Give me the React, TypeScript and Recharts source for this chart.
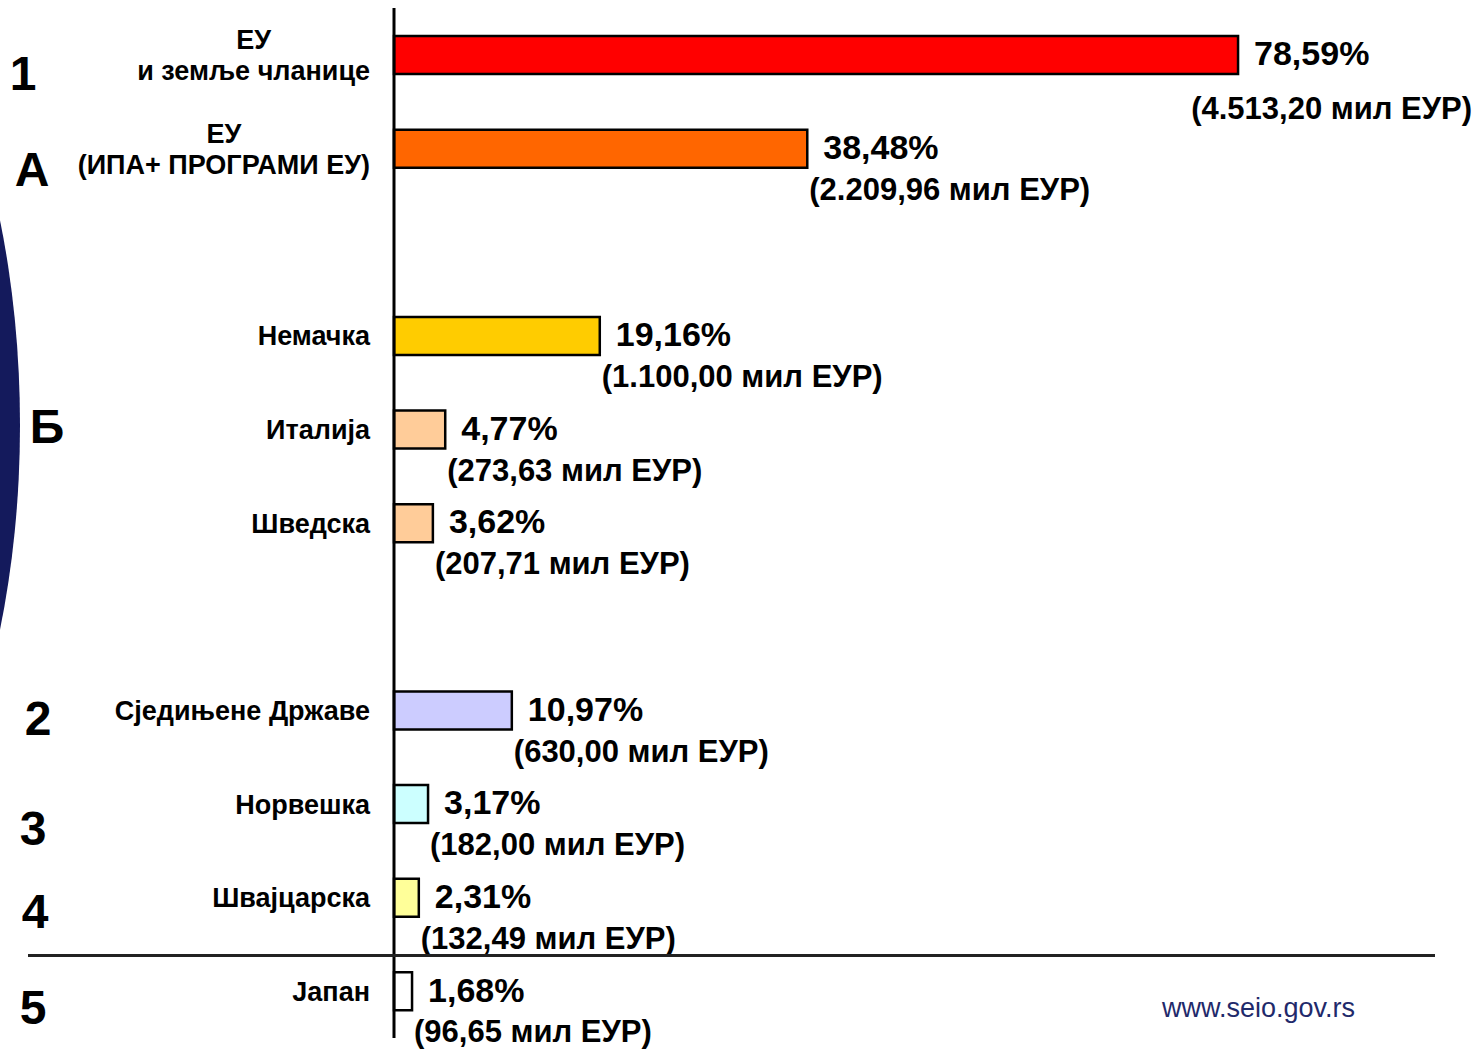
import React from "react";
import { BarChart, Bar, XAxis, YAxis, Cell, LabelList } from "recharts";

// ---- data ----
const ids = ["eu", "eu_ipa", "gap1", "de", "it", "se", "gap2", "us", "no", "ch", "jp"];
const labels = [
  "ЕУ\nи земље чланице",
  "ЕУ\n(ИПА+ ПРОГРАМИ ЕУ)",
  "",
  "Немачка",
  "Италија",
  "Шведска",
  "",
  "Сједињене Државе",
  "Норвешка",
  "Швајцарска",
  "Јапан",
];
const shares: (number | null)[] = [78.59, 38.48, null, 19.16, 4.77, 3.62, null, 10.97, 3.17, 2.31, 1.68];
const amounts: (string | null)[] = ["4.513,20", "2.209,96", null, "1.100,00", "273,63", "207,71", null, "630,00", "182,00", "132,49", "96,65"];
const colors: (string | null)[] = ["#FF0000", "#FF6600", null, "#FFCC00", "#FFCC99", "#FFCC99", null, "#CCCCFF", "#CCFFFF", "#FFFF99", "#FFFFFF"];
const groups: (string | null)[] = ["1", "А", null, null, "Б", null, null, "2", "3", "4", "5"];

const data = ids.map((id, i) => ({ id, share: shares[i] }));

// ---- layout / style ----
const W = 1480;
const H = 1049;
const FONT = "'Liberation Sans', Arial, Helvetica, sans-serif";
const GROUP_POS: Record<string, { cx: number; dy: number }> = {
  "1": { cx: 23, dy: 17.5 },
  "А": { cx: 32, dy: 20 },
  "Б": { cx: 47, dy: -3.5 },
  "2": { cx: 38, dy: 7.5 },
  "3": { cx: 33, dy: 23.5 },
  "4": { cx: 35, dy: 13.5 },
  "5": { cx: 33, dy: 16 },
};
const TICK_FS = 27;
const PCT_FS = 34;
const AMT_FS = 31;
const GRP_FS = 48;

let ctx: CanvasRenderingContext2D | null = null;
function textW(s: string, font: string) {
  if (!ctx && typeof document !== "undefined") {
    ctx = document.createElement("canvas").getContext("2d");
  }
  if (!ctx) return s.length * 14;
  ctx.font = font;
  return ctx.measureText(s).width;
}

const Tick = (props: any) => {
  const { x, y, payload } = props;
  const i = ids.indexOf(payload.value);
  const label = labels[i] || "";
  const lines = label ? label.split("\n") : [];
  const right = x - 24;
  const g = groups[i];
  const out: React.ReactNode[] = [];
  if (lines.length === 1) {
    out.push(
      <text key="l" x={right} y={y + 0.358 * TICK_FS} textAnchor="end" fontFamily={FONT} fontWeight="bold" fontSize={TICK_FS} fill="#000">
        {lines[0]}
      </text>
    );
  } else if (lines.length > 1) {
    const font = `bold ${TICK_FS}px ${FONT}`;
    const maxW = Math.max(...lines.map((l) => textW(l, font)));
    const cx = right - maxW / 2;
    const offs = [-15.5, 16];
    lines.forEach((l, k) => {
      out.push(
        <text key={"l" + k} x={cx} y={y + offs[k] + 0.358 * TICK_FS} textAnchor="middle" fontFamily={FONT} fontWeight="bold" fontSize={TICK_FS} fill="#000">
          {l}
        </text>
      );
    });
  }
  if (g) {
    const p = GROUP_POS[g];
    out.push(
      <text key="g" x={p.cx} y={y + p.dy + 0.358 * GRP_FS} textAnchor="middle" fontFamily={FONT} fontWeight="bold" fontSize={GRP_FS} fill="#000">
        {g}
      </text>
    );
  }
  return <g>{out}</g>;
};

const ValueLabel = (props: any) => {
  const { x, y, width, height, value } = props;
  if (value == null) return null;
  const i = shares.indexOf(Number(value));
  const cy = y + height / 2;
  const end = x + width;
  const pct = Number(value).toFixed(2).replace(".", ",") + "%";
  const amt = `(${amounts[i]} мил ЕУР)`;
  const amtW = textW(amt, `bold ${AMT_FS}px ${FONT}`);
  const wrap = end + 2 + amtW > W - 4;
  return (
    <g>
      <text x={end + 16} y={cy - 2 + 0.358 * PCT_FS} fontFamily={FONT} fontWeight="bold" fontSize={PCT_FS} fill="#000">
        {pct}
      </text>
      <text
        x={wrap ? W - 8 : end + 2}
        y={cy + (wrap ? 53 : 40) + 0.358 * AMT_FS}
        textAnchor={wrap ? "end" : "start"}
        fontFamily={FONT}
        fontWeight="bold"
        fontSize={AMT_FS}
        fill="#000"
      >
        {amt}
      </text>
    </g>
  );
};

export default function App() {
  return (
    <div style={{ position: "relative", width: W, height: H, background: "#fff", overflow: "hidden" }}>
      <style>{"body{margin:0}"}</style>
      {/* decorative arc on the left */}
      <div
        style={{
          position: "absolute",
          left: -520,
          top: 425 - 542,
          width: 540,
          height: 1084,
          borderRadius: "50%",
          background: "#141A5C",
        }}
      />
      <BarChart
        width={W}
        height={H}
        data={data}
        layout="vertical"
        margin={{ top: 8, right: 12, bottom: 11, left: 0 }}
        barCategoryGap={0}
        style={{ position: "absolute", left: 0, top: 0 }}
      >
        <XAxis type="number" domain={[0, 100]} hide />
        <YAxis
          type="category"
          dataKey="id"
          width={394}
          axisLine={{ stroke: "#000", strokeWidth: 3 }}
          tickLine={false}
          tickSize={0}
          tickMargin={0}
          interval={0}
          tick={<Tick />}
        />
        <Bar dataKey="share" barSize={38} stroke="#000" strokeWidth={2.5} isAnimationActive={false}>
          {data.map((d, i) => (
            <Cell key={d.id} fill={colors[i] || "#fff"} />
          ))}
          <LabelList dataKey="share" content={<ValueLabel />} />
        </Bar>
      </BarChart>
      {/* separator line */}
      <div style={{ position: "absolute", left: 28, top: 954, width: 1407, height: 3, background: "#222" }} />
      <div
        style={{
          position: "absolute",
          left: 1162,
          top: 992,
          fontFamily: "Arial, 'Liberation Sans', sans-serif",
          fontSize: 27,
          color: "#1F2A6B",
          lineHeight: "32px",
        }}
      >
        www.seio.gov.rs
      </div>
    </div>
  );
}
